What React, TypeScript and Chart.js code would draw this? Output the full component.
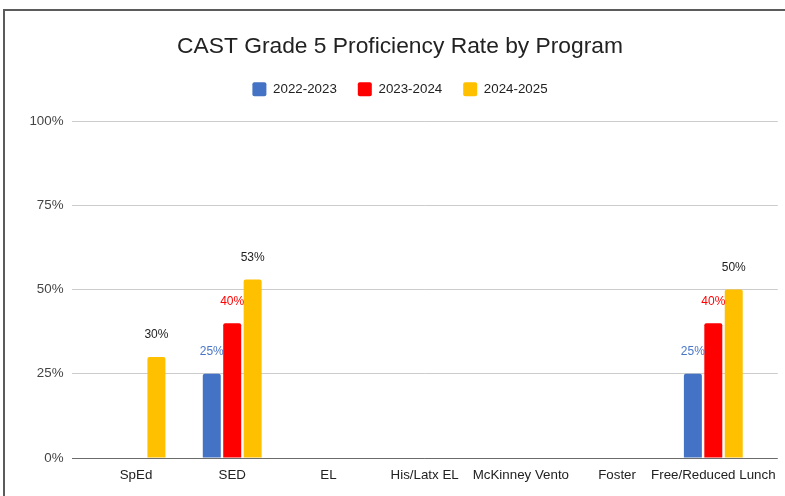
import React, { useEffect, useRef } from 'react';
import { Chart, registerables } from 'chart.js';

Chart.register(...registerables);

const chartTitle = 'CAST Grade 5 Proficiency Rate by Program';
const categories = ['SpEd', 'SED', 'EL', 'His/Latx EL', 'McKinney Vento', 'Foster', 'Free/Reduced Lunch'];
const seriesNames = ['2022-2023', '2023-2024', '2024-2025'];
const values2022: (number | null)[] = [null, 25, null, null, null, null, 25];
const values2023: (number | null)[] = [null, 40, null, null, null, null, 40];
const values2024: (number | null)[] = [30, 53, null, null, null, null, 50];
const yTickValues = [0, 25, 50, 75, 100];

const barColors = ['#4472C4', '#FF0000', '#FFC000'];
const labelColors = ['#4a76c6', '#ff0000', '#222222'];
const FONT = "'Liberation Sans', Arial, sans-serif";

const toPoints = (vals: (number | null)[]) =>
  vals.flatMap((v, i) => (v == null ? [] : [{ x: i, y: v }]));

const legendMargin = {
  id: 'legendMargin',
  beforeInit(chart: any) {
    const legend = chart.legend;
    if (!legend) return;
    const origFit = legend.fit;
    legend.fit = function () {
      origFit.call(this);
      this.height += 15;
    };
  },
};

const dataLabels = {
  id: 'dataLabels',
  afterDatasetsDraw(chart: any) {
    const ctx = chart.ctx;
    ctx.save();
    ctx.font = `12px ${FONT}`;
    ctx.textAlign = 'center';
    ctx.textBaseline = 'middle';
    chart.data.datasets.forEach((ds: any, di: number) => {
      const meta = chart.getDatasetMeta(di);
      meta.data.forEach((el: any, i: number) => {
        const raw = ds.data[i];
        if (!raw || raw.y == null) return;
        ctx.fillStyle = labelColors[di];
        ctx.fillText(`${raw.y}%`, el.x, el.y - 22);
      });
    });
    ctx.restore();
  },
};

export default function App() {
  const ref = useRef<HTMLCanvasElement | null>(null);

  useEffect(() => {
    if (!ref.current) return;
    const seriesValues = [values2022, values2023, values2024];
    const chart = new Chart(ref.current, {
      type: 'bar',
      data: {
        datasets: seriesNames.map((name, i) => ({
          label: name,
          data: toPoints(seriesValues[i]),
          backgroundColor: barColors[i],
          borderWidth: 0,
          borderRadius: { topLeft: 2, topRight: 2, bottomLeft: 0, bottomRight: 0 },
          borderSkipped: false,
          categoryPercentage: 0.637,
          barPercentage: 0.88,
        })),
      },
      options: {
        responsive: false,
        animation: false,
        layout: { padding: { left: 20, right: 5, top: 0, bottom: 4 } },
        plugins: {
          title: {
            display: true,
            text: chartTitle,
            color: '#222',
            font: { family: FONT, size: 22.8, weight: 'normal' },
            padding: { top: 33.5, bottom: 0.3 },
          },
          legend: {
            display: true,
            position: 'top',
            labels: {
              boxWidth: 14,
              boxHeight: 14,
              padding: 21,
              color: '#222',
              font: { family: FONT, size: 13.33 },
              useBorderRadius: true,
              borderRadius: 2,
            },
          },
          tooltip: { enabled: false },
        },
        scales: {
          x: {
            type: 'linear',
            min: -0.665,
            max: 6.67,
            offset: false,
            grid: { display: false, drawTicks: false },
            border: { display: false },
            ticks: {
              stepSize: 1,
              includeBounds: false,
              autoSkip: false,
              maxRotation: 0,
              minRotation: 0,
              padding: 9,
              color: '#222',
              font: { family: FONT, size: 13.33 },
              callback: (v: any) => categories[v as number] ?? '',
            },
          },
          y: {
            type: 'linear',
            min: 0,
            max: 100,
            afterFit: (scale: any) => {
              scale.width = 52;
            },
            afterBuildTicks: (scale: any) => {
              scale.ticks = yTickValues.map((v) => ({ value: v }));
            },
            grid: {
              drawTicks: false,
              color: (c: any) => (c.tick && c.tick.value === 0 ? '#6b6b6b' : '#cccccc'),
              lineWidth: 1,
            },
            border: { display: false },
            ticks: {
              padding: 8.5,
              color: '#444',
              font: { family: FONT, size: 13.33 },
              callback: (v: any) => `${v}%`,
            },
          },
        },
      },
      plugins: [legendMargin, dataLabels],
    } as any);
    return () => chart.destroy();
  }, []);

  return (
    <div
      style={{
        position: 'fixed',
        left: 0,
        top: 0,
        width: 785,
        height: 496,
        overflow: 'hidden',
        background: '#fff',
      }}
    >
      <canvas ref={ref} width={785} height={496} style={{ display: 'block', width: 785, height: 496 }} />
      <div style={{ position: 'absolute', left: 3, top: 9, width: 782, height: 2, background: '#5b5b5b' }} />
      <div style={{ position: 'absolute', left: 3, top: 9, width: 2, height: 487, background: '#5b5b5b' }} />
    </div>
  );
}
